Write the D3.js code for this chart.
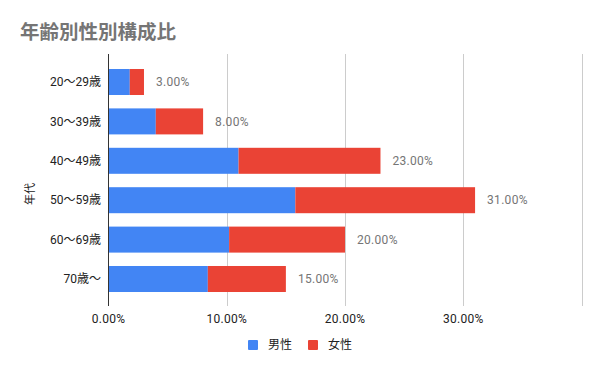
<!DOCTYPE html>
<html>
<head>
<meta charset="utf-8">
<script src="https://cdn.jsdelivr.net/npm/d3@7"></script>
<style>
  body { margin: 0; background: #fff; }
  text { font-family: "Roboto", "Noto Sans CJK JP", sans-serif; }
</style>
</head>
<body>
<div id="chart"></div>
<script>
// data
var ageGroups = ["20～29歳", "30～39歳", "40～49歳", "50～59歳", "60～69歳", "70歳～"];
var male = [1.8, 4.0, 11.0, 15.8, 10.2, 8.4];
var female = [1.2, 4.0, 12.0, 15.2, 9.8, 6.6];
var totals = [3, 8, 23, 31, 20, 15];
var xTicks = [0, 10, 20, 30, 40];
var seriesNames = ["男性", "女性"];
var colors = ["#4285F4", "#EA4335"];

var width = 600, height = 371;

var svg = d3.select("#chart")
    .append("svg")
    .attr("width", width)
    .attr("height", height);

var x = d3.scaleLinear().domain([0, 40]).range([108.5, 581.5]);
var y = d3.scaleBand().domain(ageGroups).range([62.3, 298.7]).paddingInner(0.34).paddingOuter(0.17);

// title
svg.append("text")
    .attr("x", 20)
    .attr("y", 39)
    .attr("font-size", "19.5px")
    .attr("font-weight", "bold")
    .attr("fill", "#757575")
    .style("font-family", "'Noto Sans CJK JP', sans-serif")
    .text("年齢別性別構成比");

// gridlines
svg.selectAll(".grid")
    .data(xTicks.slice(1))
    .enter()
    .append("line")
    .attr("x1", function(d) { return Math.round(x(d)) + 0.5; })
    .attr("x2", function(d) { return Math.round(x(d)) + 0.5; })
    .attr("y1", 54)
    .attr("y2", 306)
    .attr("stroke", "#cccccc")
    .attr("stroke-width", 1);

// stacked bars
var rows = ageGroups.map(function(g, i) {
    return { group: g, male: male[i], female: female[i], total: totals[i] };
});
var stack = d3.stack().keys(["male", "female"])(rows);

svg.selectAll(".series")
    .data(stack)
    .enter()
    .append("g")
    .attr("fill", function(d, i) { return colors[i]; })
    .selectAll("rect")
    .data(function(d) { return d; })
    .enter()
    .append("rect")
    .attr("x", function(d) { return x(d[0]); })
    .attr("y", function(d) { return y(d.data.group); })
    .attr("width", function(d) { return x(d[1]) - x(d[0]); })
    .attr("height", y.bandwidth());

// total labels
svg.selectAll(".total")
    .data(rows)
    .enter()
    .append("text")
    .attr("x", function(d) { return x(d.total) + 12; })
    .attr("y", function(d) { return y(d.group) + y.bandwidth() / 2; })
    .attr("dy", "0.35em")
    .attr("font-size", "12px")
    .attr("letter-spacing", "0.3px")
    .attr("fill", "#757575")
    .text(function(d) { return d.total.toFixed(2) + "%"; });

// y axis line
svg.append("line")
    .attr("x1", 108.5).attr("x2", 108.5)
    .attr("y1", 54).attr("y2", 306)
    .attr("stroke", "#333333");

// y labels
svg.selectAll(".ylab")
    .data(ageGroups)
    .enter()
    .append("text")
    .attr("x", 101)
    .attr("y", function(d) { return y(d) + y.bandwidth() / 2; })
    .attr("dy", "0.35em")
    .attr("text-anchor", "end")
    .attr("font-size", "12px")
    .attr("fill", "#222222")
    .text(function(d) { return d; });

// x tick labels
svg.selectAll(".xlab")
    .data(xTicks.slice(0, 4))
    .enter()
    .append("text")
    .attr("x", function(d) { return x(d); })
    .attr("y", 323)
    .attr("text-anchor", "middle")
    .attr("font-size", "12px")
    .attr("letter-spacing", "0.3px")
    .attr("fill", "#222222")
    .text(function(d) { return d.toFixed(2) + "%"; });

// y axis title
svg.append("text")
    .attr("transform", "translate(34,194) rotate(-90)")
    .attr("text-anchor", "middle")
    .attr("font-size", "11px")
    .attr("fill", "#222222")
    .text("年代");

// legend
var legend = svg.selectAll(".legend")
    .data(seriesNames)
    .enter()
    .append("g")
    .attr("transform", function(d, i) { return "translate(" + (248 + i * 60) + ",340)"; });

legend.append("rect")
    .attr("width", 10)
    .attr("height", 10)
    .attr("rx", 1)
    .attr("fill", function(d, i) { return colors[i]; });

legend.append("text")
    .attr("x", 20)
    .attr("y", 5)
    .attr("dy", "0.35em")
    .attr("font-size", "12px")
    .attr("fill", "#222222")
    .text(function(d) { return d; });
</script>
</body>
</html>
